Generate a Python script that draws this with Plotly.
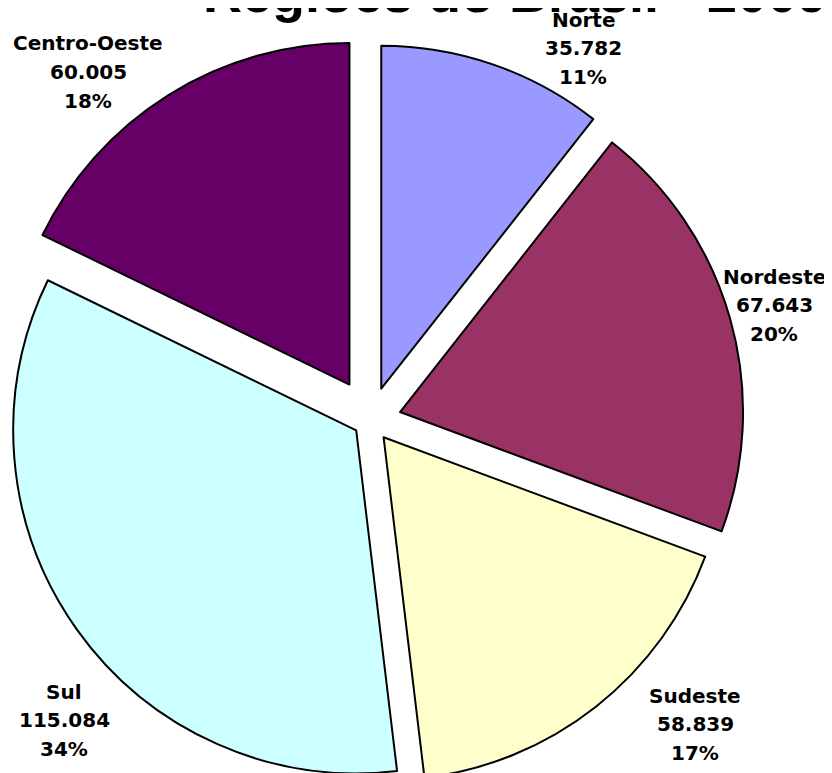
import math
import plotly.graph_objects as go

W, H = 832, 773
OFF = 8  # the page body adds an 8px margin, so shift everything back by that

regions = ["Norte", "Nordeste", "Sudeste", "Sul", "Centro-Oeste"]
values = [35782, 67643, 58839, 115084, 60005]
colors = ["#9999FF", "#993366", "#FFFFCC", "#CCFFFF", "#660066"]

# explosion of each slice in pixels (the original pulls them out unevenly)
pull_px = [33.5, 30.9, 21.5, 17.3, 42.3]
R = 343
CX, CY = 370.3 - OFF, 420.4 - OFF

# label centres in screen pixels (x from left, y from top)
label_pos = [(583, 48), (774, 305), (695, 724), (64, 720), (88, 72)]

total = sum(values)


def fmt(v):
    return f"{v:,}".replace(",", ".")


def clamp(a):
    return min(max(a, 0.0), 1.0)


fig = go.Figure()

# one pie trace per slice, every other slice transparent, so each slice can
# be exploded by its own amount through the trace domain
start = 0.0
for i, v in enumerate(values):
    mid = math.radians(360 * (start + v / 2) / total)
    start += v
    cx = CX + pull_px[i] * math.sin(mid)
    cy = CY - pull_px[i] * math.cos(mid)
    fig.add_trace(
        go.Pie(
            labels=regions,
            values=values,
            sort=False,
            direction="clockwise",
            rotation=0,
            marker=dict(
                colors=[c if j == i else "rgba(0,0,0,0)" for j, c in enumerate(colors)],
                line=dict(
                    color="black",
                    width=[2 if j == i else 0 for j in range(len(values))],
                ),
            ),
            textinfo="none",
            hoverinfo=["label+value+percent" if j == i else "none" for j in range(len(values))],
            domain=dict(
                x=[clamp((cx - R) / W), clamp((cx + R) / W)],
                y=[clamp(1 - (cy + R) / H), clamp(1 - (cy - R) / H)],
            ),
        )
    )

annotations = []
for name, v, (px, py) in zip(regions, values, label_pos):
    lines = [name, fmt(v), f"{round(100 * v / total)}%"]
    for k, line in enumerate(lines):
        annotations.append(
            dict(
                text=f"<b>{line}</b>",
                x=(px - OFF) / W,
                y=1 - (py - OFF) / H,
                xref="paper",
                yref="paper",
                showarrow=False,
                xanchor="center",
                yanchor="middle",
                yshift=-28.5 * (k - 1),
                font=dict(family="DejaVu Sans", size=20, color="black"),
            )
        )

annotations.append(
    dict(
        text="<b>Regiões do Brasil - 2009</b>",
        x=(515 - OFF) / W,
        y=1.0198,
        xref="paper",
        yref="paper",
        showarrow=False,
        xanchor="center",
        yanchor="middle",
        font=dict(family="Liberation Sans, Arial", size=54, color="black"),
    )
)

fig.update_layout(
    width=W,
    height=H,
    margin=dict(l=0, r=0, t=0, b=0),
    paper_bgcolor="white",
    plot_bgcolor="white",
    showlegend=False,
    annotations=annotations,
)

fig.write_html("out.html")
